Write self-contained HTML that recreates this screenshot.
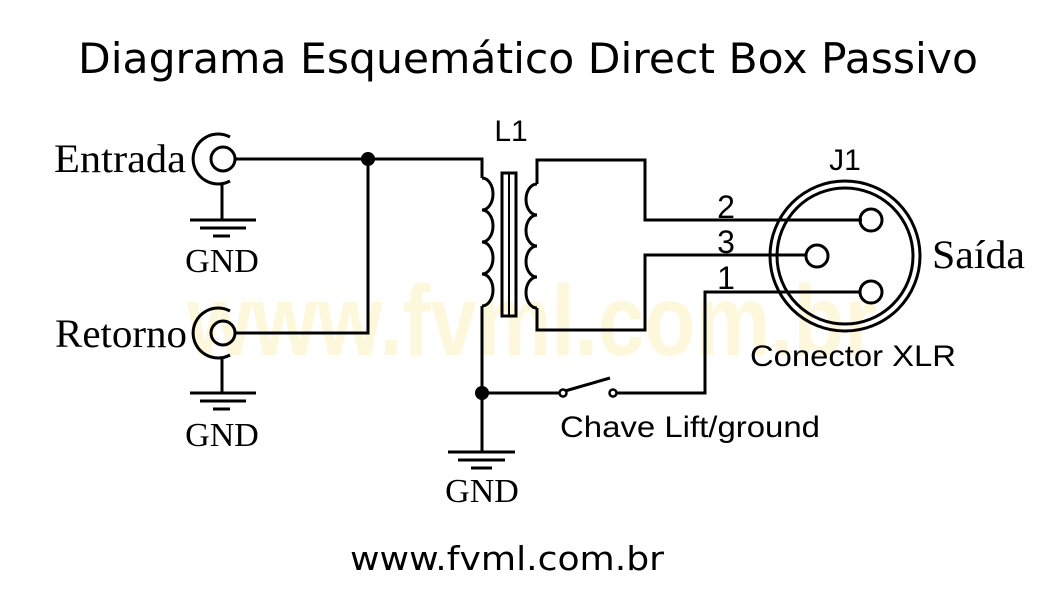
<!DOCTYPE html>
<html><head><meta charset="utf-8"><style>
html,body{margin:0;padding:0;background:#fff;}
svg{display:block;}
.sans{font-family:"DejaVu Sans","Liberation Sans",sans-serif;}
.ls{font-family:"Liberation Sans",sans-serif;}
.serif{font-family:"Liberation Serif",serif;}
</style></head><body>
<svg width="1057" height="603" viewBox="0 0 1057 603" xmlns="http://www.w3.org/2000/svg">
<rect width="1057" height="603" fill="#fff"/>
<text x="532" y="355" text-anchor="middle" class="ls" font-weight="bold" font-size="100" fill="#fdf7dc" textLength="690" lengthAdjust="spacingAndGlyphs">www.fvml.com.br</text>
<text x="78" y="73" class="sans" font-size="42" textLength="900" lengthAdjust="spacingAndGlyphs">Diagrama Esquemático Direct Box Passivo</text>
<text x="350" y="570" class="sans" font-size="33" textLength="314" lengthAdjust="spacingAndGlyphs">www.fvml.com.br</text>
<g stroke="#000" stroke-width="3" fill="none">
<circle cx="223" cy="159" r="12"/>
<path d="M230 137 A25 25 0 1 0 230 181"/>
<circle cx="223" cy="333" r="12"/>
<path d="M230 311 A25 25 0 1 0 230 355"/>
<path d="M222 184 V220 M190 220 H256 M200 228 H246 M213 236 H230"/>
<path d="M222 358 V393 M190 393 H256 M200 401 H246 M213 409 H230"/>
<path d="M235 159 H482 V178"/>
<path d="M235 333 H368 V159"/>
<path d="M482 178 a11 16 0 0 1 0 32 a11 16 0 0 1 0 32 a11 16 0 0 1 0 32 a11 16 0 0 1 0 32"/>
<path d="M482 306 V452 M448 452 H515 M458 460 H505 M471 468 H492"/>
<rect x="502" y="173" width="14" height="143"/>
<line x1="509" y1="173" x2="509" y2="316" stroke-width="2"/>
<path d="M537 184 a11 15.5 0 0 0 0 31 a11 15.5 0 0 0 0 31 a11 15.5 0 0 0 0 31 a11 15.5 0 0 0 0 31"/>
<path d="M537 184 V160 H645 V220 H862"/>
<path d="M537 308 V330 H645 V255 H806"/>
<path d="M482 393 H559 M617 393 H705 V292 H860"/>
<line x1="565" y1="391" x2="610" y2="378"/>
<circle cx="563" cy="393" r="3.5" stroke-width="2.5"/>
<circle cx="613" cy="393" r="3.5" stroke-width="2.5"/>
<circle cx="845" cy="256" r="75"/>
<circle cx="845" cy="256" r="68"/>
<circle cx="871" cy="220" r="11"/>
<circle cx="817" cy="256" r="11"/>
<circle cx="871" cy="292" r="11"/>
</g>
<circle cx="368" cy="159" r="7"/>
<circle cx="482" cy="393" r="7"/>
<g class="serif" font-size="40">
<text x="54" y="172" textLength="132" lengthAdjust="spacingAndGlyphs">Entrada</text>
<text x="55" y="347" textLength="132" lengthAdjust="spacingAndGlyphs">Retorno</text>
<text x="932" y="268" textLength="93" lengthAdjust="spacingAndGlyphs">Saída</text>
</g>
<g class="serif" font-size="34">
<text x="222" y="272" text-anchor="middle">GND</text>
<text x="222" y="446" text-anchor="middle">GND</text>
<text x="482" y="502" text-anchor="middle">GND</text>
</g>
<g class="ls" font-size="30">
<text x="511" y="141" text-anchor="middle">L1</text>
<text x="845" y="170" text-anchor="middle">J1</text>
</g>
<g class="ls" font-size="32">
<text x="726" y="218" text-anchor="middle">2</text>
<text x="726" y="253" text-anchor="middle">3</text>
<text x="726" y="289" text-anchor="middle">1</text>
</g>
<g class="ls" font-size="30">
<text x="750" y="366" textLength="206" lengthAdjust="spacingAndGlyphs">Conector XLR</text>
<text x="560" y="437" textLength="260" lengthAdjust="spacingAndGlyphs">Chave Lift/ground</text>
</g>
</svg>
</body></html>
